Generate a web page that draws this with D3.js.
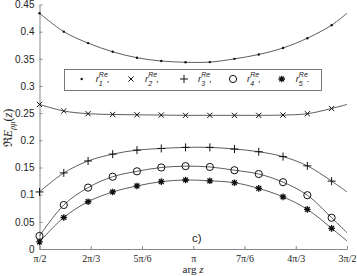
<!DOCTYPE html>
<html>
<head>
<meta charset="utf-8">
<script src="https://cdn.jsdelivr.net/npm/d3@7"></script>
<style>
  body { margin: 0; background: #fff; }
  svg { display: block; }
  text { font-family: "Liberation Sans", Arial, sans-serif; fill: #222; }
</style>
</head>
<body>
<svg width="357" height="276"></svg>
<script>
// angles in units of pi
var angles = [0.5, 0.579, 0.658, 0.738, 0.817, 0.896, 0.975, 1.054, 1.134, 1.213, 1.292, 1.371, 1.450];
var endAngle = 1.5;

var r1 = [0.434, 0.400, 0.379, 0.363, 0.352, 0.346, 0.3437, 0.344, 0.350, 0.358, 0.370, 0.388, 0.412];
var r2 = [0.266, 0.254, 0.249, 0.2476, 0.247, 0.2465, 0.246, 0.246, 0.246, 0.246, 0.2465, 0.249, 0.2586];
var r3 = [0.105, 0.140, 0.162, 0.1746, 0.182, 0.185, 0.187, 0.187, 0.184, 0.179, 0.170, 0.153, 0.125];
var r4 = [0.024, 0.081, 0.113, 0.133, 0.143, 0.150, 0.1525, 0.151, 0.145, 0.138, 0.123, 0.099, 0.0575];
var r5 = [0.013, 0.058, 0.087, 0.105, 0.116, 0.124, 0.127, 0.1255, 0.122, 0.1115, 0.096, 0.073, 0.038];
var endValues = [0.434, 0.266, 0.105, 0.030, 0.015];

var seriesNames = ["1", "2", "3", "4", "5"];
var seriesMarks = ["dot", "cross", "plus", "circle", "star"];
var xTicks = [0.5, 2/3, 5/6, 1, 7/6, 4/3, 1.5];
var xTickLabels = ["π/2", "2π/3", "5π/6", "π", "7π/6", "4π/3", "3π/2"];
var yTicks = [0, 0.05, 0.1, 0.15, 0.2, 0.25, 0.3, 0.35, 0.4, 0.45];

var svg = d3.select("svg");
var x = d3.scaleLinear().domain([0.5, 1.5]).range([39.5, 347]);
var y = d3.scaleLinear().domain([0, 0.45]).range([249, 4.5]);
var axisColor = "#888";

// axes
var xAxis = svg.append("g").attr("transform", "translate(0,249)")
  .call(d3.axisBottom(x).tickValues(xTicks).tickSizeInner(-3).tickSizeOuter(0).tickPadding(6)
    .tickFormat(function(d, i) { return xTickLabels[i]; }));
var yAxis = svg.append("g").attr("transform", "translate(39.5,0)")
  .call(d3.axisLeft(y).tickValues(yTicks).tickSizeInner(-3).tickSizeOuter(0).tickPadding(5)
    .tickFormat(function(d) { return d3.format("")(+d.toFixed(2)); }));
svg.selectAll(".domain, .tick line").attr("stroke", axisColor);
yAxis.selectAll("text").attr("font-size", 10).attr("fill", "#333").style("font-family", "Liberation Sans, sans-serif");
xAxis.selectAll("text").attr("font-size", 10).attr("fill", "#333").style("font-family", "Liberation Serif, serif");

var all = [r1, r2, r3, r4, r5];

var line = d3.line()
  .x(function(d) { return x(d[0]); })
  .y(function(d) { return y(d[1]); })
  .curve(d3.curveCatmullRom);

var gPlot = svg.append("g");

all.forEach(function(vals, si) {
  var pts = angles.map(function(a, i) { return [a, vals[i]]; });
  pts.push([endAngle, endValues[si]]);
  gPlot.append("path").attr("d", line(pts))
    .attr("fill", "none").attr("stroke", "#333").attr("stroke-width", 0.8);
});

function drawMark(g, type, cx, cy) {
  var s = "#111";
  if (type === "dot") {
    g.append("circle").attr("cx", cx).attr("cy", cy).attr("r", 1.2).attr("fill", s);
  } else if (type === "cross") {
    var a = 2.6;
    g.append("path").attr("d", "M" + (cx - a) + "," + (cy - a) + "L" + (cx + a) + "," + (cy + a) +
      "M" + (cx - a) + "," + (cy + a) + "L" + (cx + a) + "," + (cy - a))
      .attr("stroke", s).attr("stroke-width", 1);
  } else if (type === "plus") {
    var b = 4;
    g.append("path").attr("d", "M" + (cx - b) + "," + cy + "L" + (cx + b) + "," + cy +
      "M" + cx + "," + (cy - b) + "L" + cx + "," + (cy + b))
      .attr("stroke", s).attr("stroke-width", 1);
  } else if (type === "circle") {
    g.append("circle").attr("cx", cx).attr("cy", cy).attr("r", 3.6)
      .attr("fill", "none").attr("stroke", s).attr("stroke-width", 1);
  } else if (type === "star") {
    var c = 3.3, d = 2.4;
    g.append("path").attr("d", "M" + (cx - c) + "," + cy + "L" + (cx + c) + "," + cy +
      "M" + cx + "," + (cy - c) + "L" + cx + "," + (cy + c) +
      "M" + (cx - d) + "," + (cy - d) + "L" + (cx + d) + "," + (cy + d) +
      "M" + (cx - d) + "," + (cy + d) + "L" + (cx + d) + "," + (cy - d))
      .attr("stroke", s).attr("stroke-width", 1.3);
    g.append("circle").attr("cx", cx).attr("cy", cy).attr("r", 1.4).attr("fill", s);
  }
}

all.forEach(function(vals, si) {
  vals.forEach(function(v, i) {
    drawMark(gPlot, seriesMarks[si], x(angles[i]), y(v));
  });
});

// legend
var leg = svg.append("g");
leg.append("rect").attr("x", 64.5).attr("y", 69.5).attr("width", 257).attr("height", 21)
  .attr("fill", "#fff").attr("stroke", "#555").attr("stroke-width", 0.8);
var legX = [81.7, 131, 184, 233, 281.7];
seriesNames.forEach(function(n, i) {
  drawMark(leg, seriesMarks[i], legX[i], 79);
  var t = leg.append("text").attr("x", legX[i] + 14).attr("y", 82)
    .attr("font-size", 9.5).style("font-family", "Liberation Sans, sans-serif").attr("fill", "#333");
  t.append("tspan").attr("font-style", "italic").text("r");
  t.append("tspan").attr("dy", -5).attr("font-size", 7).attr("font-style", "italic").text("Re");
  t.append("tspan").attr("dx", -9).attr("dy", 9).attr("font-size", 7).attr("font-style", "italic").text(n);
  t.append("tspan").attr("dx", 4).attr("dy", -4).text(i < 4 ? "," : ".");
});

// panel label
svg.append("text").attr("x", 192).attr("y", 242).attr("font-size", 11.5).attr("fill", "#222").text("c)");

// x label
svg.append("text").attr("x", 193).attr("y", 273).attr("text-anchor", "middle")
  .attr("font-size", 11).style("font-family", "Liberation Serif, serif").attr("fill", "#333")
  .html('arg <tspan font-style="italic">z</tspan>');

// y label
var yl = svg.append("text").attr("transform", "translate(12,128) rotate(-90)")
  .attr("text-anchor", "middle").attr("font-size", 12)
  .style("font-family", "Liberation Serif, serif").attr("fill", "#333");
yl.append("tspan").text("ℜ");
yl.append("tspan").attr("font-style", "italic").text("E");
yl.append("tspan").attr("font-style", "italic").attr("font-size", 8.5).attr("dy", 3).text("ρμ");
yl.append("tspan").attr("dy", -3).text("(");
yl.append("tspan").attr("font-style", "italic").text("z");
yl.append("tspan").text(")");
</script>
</body>
</html>
